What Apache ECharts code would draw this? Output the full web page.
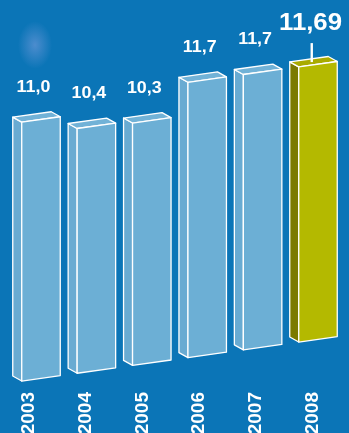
<!DOCTYPE html>
<html><head><meta charset="utf-8">
<script src="https://cdn.jsdelivr.net/npm/echarts@6/dist/echarts.min.js"></script>
<style>html,body{margin:0;padding:0;background:#0b75b7;}#c{width:349px;height:433px;}</style>
</head><body><div id="c"></div>
<script>
var years = ['2003','2004','2005','2006','2007','2008'];
var values = [11.0, 10.4, 10.3, 11.7, 11.7, 11.69];
var valueLabels = ['11,0','10,4','10,3','11,7','11,7','11,69'];
var highlight = [0, 0, 0, 0, 0, 1];

var SLOPE = -0.1408, X0 = 22, DX = -9, DY = -5;
var FONT = '"Liberation Sans", Arial, sans-serif';

var chart = echarts.init(document.getElementById('c'), null, {renderer: 'canvas'});

function renderItem(params, api) {
  var idx = api.value(2);
  var v = api.value(1);
  var top = api.coord([api.value(0), v]);
  var base = api.coord([api.value(0), 0]);
  var band = api.size([1, 0])[0];
  var w = band * 0.695;
  var x0 = top[0] - w / 2, x1 = top[0] + w / 2;
  function sh(x, y) { return [x, y + SLOPE * (x - X0)]; }
  var FLb = sh(x0, base[1]), FRb = sh(x1, base[1]);
  var FLt = sh(x0, top[1]), FRt = sh(x1, top[1]);
  var BLb = [FLb[0] + DX, FLb[1] + DY];
  var BLt = [FLt[0] + DX, FLt[1] + DY];
  var BRt = [FRt[0] + DX, FRt[1] + DY];
  var hi = highlight[idx] === 1;
  var cFront = hi ? '#b4b900' : '#6cafd5';
  var cSide = hi ? '#7b7a00' : '#69abd2';
  var cTop = hi ? '#a9ab00' : '#71b2d7';
  var st = {stroke: '#ffffff', lineWidth: 1.3, lineJoin: 'round'};
  var children = [
    {type: 'polygon', shape: {points: [BLb, FLb, FLt, BLt]}, style: Object.assign({fill: cSide}, st)},
    {type: 'polygon', shape: {points: [FLt, FRt, BRt, BLt]}, style: Object.assign({fill: cTop}, st)},
    {type: 'polygon', shape: {points: [FLb, FRb, FRt, FLt]}, style: Object.assign({fill: cFront}, st)}
  ];
  var lx = top[0] - 7.5;
  var lyTop = sh(lx, top[1])[1];
  if (hi) {
    var tx = x0 + 13;
    var ty = sh(tx, top[1])[1];
    children.push({type: 'line', shape: {x1: tx, y1: ty - 22, x2: tx, y2: ty - 3},
      style: {stroke: '#ffffff', lineWidth: 2.4}});
    children.push({type: 'text', x: lx, y: lyTop - 42, scaleX: 1.12,
      style: {text: valueLabels[idx], fill: '#ffffff', font: 'bold 23px ' + FONT,
        align: 'center', verticalAlign: 'middle'}});
  } else {
    children.push({type: 'text', x: lx, y: lyTop - 33.5, scaleX: 1.05,
      style: {text: valueLabels[idx], fill: '#ffffff', font: 'bold 17px ' + FONT,
        align: 'center', verticalAlign: 'middle'}});
  }
  return {type: 'group', children: children};
}

var option = {
  backgroundColor: '#0b75b7',
  animation: false,
  graphic: [{
    type: 'circle', z: 0, x: 35, y: 45, scaleY: 1.4,
    shape: {cx: 0, cy: 0, r: 17},
    style: {fill: new echarts.graphic.RadialGradient(0.5, 0.5, 0.5, [
      {offset: 0, color: 'rgba(130,160,225,0.55)'},
      {offset: 1, color: 'rgba(130,160,225,0)'}
    ])}
  }],
  grid: [
    {left: 13.3, right: 3.3, top: 28, bottom: 52, outerBoundsMode: 'none', containLabel: false},
    {left: 0, right: 7.5, top: 28, bottom: 52, outerBoundsMode: 'none', containLabel: false}
  ],
  xAxis: [
    {type: 'category', gridIndex: 0, data: years, show: false},
    {type: 'category', gridIndex: 1, data: years,
      axisLine: {show: false}, axisTick: {show: false}, splitLine: {show: false},
      axisLabel: {rotate: 90, margin: 11, color: '#ffffff', fontSize: 19, fontWeight: 'bold', fontFamily: FONT}}
  ],
  yAxis: [
    {type: 'value', gridIndex: 0, min: 0, max: 15, show: false},
    {type: 'value', gridIndex: 1, min: 0, max: 15, show: false}
  ],
  series: [{
    type: 'custom', xAxisIndex: 0, yAxisIndex: 0,
    renderItem: renderItem,
    data: values.map(function (v, i) { return [i, v, i]; })
  }]
};
chart.setOption(option);
</script>
</body></html>
